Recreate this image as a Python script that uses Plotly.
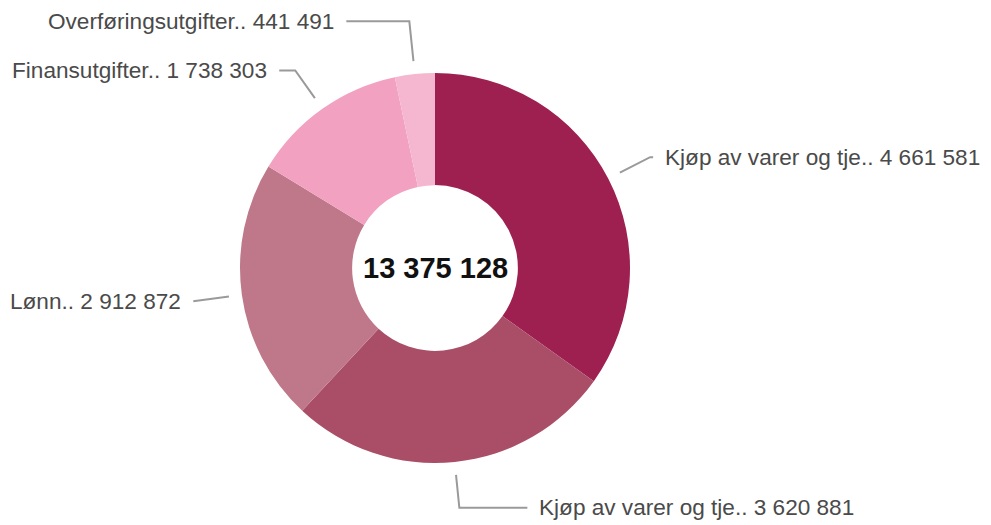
import math
import plotly.graph_objects as go

# ---- data ----
categories = ["Kjøp av varer og tje..", "Kjøp av varer og tje..", "Lønn..",
              "Finansutgifter..", "Overføringsutgifter.."]
values = [4661581, 3620881, 2912872, 1738303, 441491]
colors = ["#9e2050", "#aa4e68", "#bf788a", "#f2a1c1", "#f5b6d0"]
total_label = "13 375 128"

# ---- layout/style (pixel geometry) ----
W, H = 991, 525
CX, CY, R = 435, 268, 195
HOLE = 0.425
LINE_START_R = 208
ELBOW_R = [242, 241, 242, 242, 248]
H_LEN = [3, 68, 2, 16, 63]
GAP = 10
FONT = "Liberation Sans, Arial, sans-serif"


def fmt(v):
    return f"{v:,}".replace(",", " ")


fig = go.Figure()
fig.add_trace(go.Pie(
    values=values, labels=[f"{c}{i}" for i, c in enumerate(categories)],
    marker=dict(colors=colors, line=dict(width=0)),
    hole=HOLE, sort=False, direction="clockwise", rotation=0,
    textinfo="none", hoverinfo="skip", showlegend=False,
    domain=dict(x=[(CX - R) / W, (CX + R) / W], y=[1 - (CY + R) / H, 1 - (CY - R) / H]),
))

tot = sum(values)
cum = 0
lx, ly = [], []
annotations = []
for i, v in enumerate(values):
    mid = (cum + v / 2) / tot * 2 * math.pi
    cum += v
    s, c = math.sin(mid), math.cos(mid)
    x0, y0 = CX + LINE_START_R * s, CY - LINE_START_R * c
    x1, y1 = CX + ELBOW_R[i] * s, CY - ELBOW_R[i] * c
    side = 1 if s >= 0 else -1
    x2 = x1 + side * H_LEN[i]
    lx += [x0, x1, x2, None]
    ly += [y0, y1, y1, None]
    annotations.append(dict(
        x=x2 + side * GAP, y=y1, xref="x", yref="y",
        text=f"{categories[i]} {fmt(v)}", showarrow=False,
        xanchor="left" if side > 0 else "right", yanchor="middle",
        font=dict(family=FONT, size=22.6, color="#4a4a4a"),
    ))

fig.add_trace(go.Scatter(x=lx, y=ly, mode="lines", line=dict(color="#9a9a9a", width=2),
                         hoverinfo="skip", showlegend=False))

annotations.append(dict(
    x=CX, y=CY, xref="x", yref="y", text=f"<b>{total_label}</b>", showarrow=False,
    xanchor="center", yanchor="middle",
    font=dict(family=FONT, size=29, color="#111111"),
))

fig.update_layout(
    width=W, height=H, margin=dict(l=0, r=0, t=0, b=0),
    paper_bgcolor="white", plot_bgcolor="rgba(0,0,0,0)",
    xaxis=dict(range=[0, W], visible=False, fixedrange=True),
    yaxis=dict(range=[H, 0], visible=False, fixedrange=True),
    annotations=annotations,
)

fig.write_html("out.html", config={"displayModeBar": False})
with open("out.html", encoding="utf-8") as f:
    html = f.read()
html = html.replace("<head>", "<head><style>html,body{margin:0;padding:0;overflow:hidden;}</style>", 1)
with open("out.html", "w", encoding="utf-8") as f:
    f.write(html)
